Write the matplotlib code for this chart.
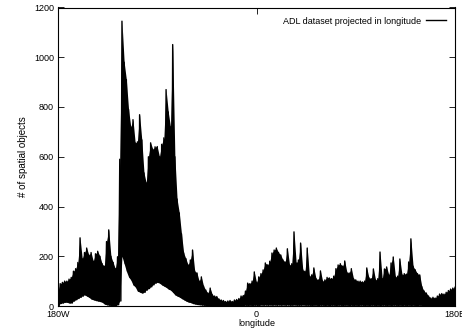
import numpy as np
import matplotlib
matplotlib.use("Agg")
import matplotlib.pyplot as plt

plt.rcParams['font.family'] = ['Liberation Sans', 'DejaVu Sans']

# longitude bins (2 degree step) and read-off envelopes of the dense histogram line
lon = list(range(-180, 181, 2))
upper = [60, 90, 95, 100, 100, 108, 115, 140, 150, 175,
         274, 190, 215, 233, 205, 215, 180, 210, 220, 200,
         170, 160, 259, 306, 200, 175, 150, 198, 590, 1145,
         980, 910, 790, 720, 749, 656, 660, 769, 668, 535,
         495, 600, 656, 630, 640, 641, 600, 650, 676, 870,
         780, 720, 1051, 600, 430, 374, 290, 213, 190, 165,
         185, 225, 140, 133, 100, 117, 80, 64, 52, 72,
         45, 40, 38, 28, 24, 22, 18, 20, 22, 18,
         24, 26, 30, 40, 42, 60, 92, 90, 100, 137,
         95, 117, 130, 145, 173, 165, 180, 213, 225, 233,
         215, 205, 185, 177, 230, 165, 170, 298, 173, 185,
         253, 145, 140, 233, 120, 125, 153, 110, 105, 141,
         100, 105, 115, 113, 110, 120, 150, 165, 170, 160,
         181, 135, 133, 150, 110, 105, 100, 100, 97, 100,
         153, 113, 110, 149, 105, 110, 217, 110, 149, 157,
         125, 173, 197, 117, 120, 189, 125, 130, 128, 177,
         270, 160, 145, 130, 125, 77, 60, 52, 40, 32,
         35, 32, 40, 48, 50, 48, 55, 62, 68, 72, 75]
lower = [0, 10, 12, 15, 15, 12, 12, 20, 25, 30,
         35, 40, 45, 40, 35, 28, 25, 22, 20, 18,
         15, 8, 5, 3, 2, 0, 2, 5, 20, 200,
         170, 140, 117, 105, 85, 77, 60, 56, 52, 55,
         64, 70, 77, 85, 92, 95, 92, 85, 80, 75,
         68, 64, 55, 45, 40, 36, 30, 25, 20, 16,
         14, 10, 8, 6, 5, 4, 3, 2, 2, 1,
         1, 0, 1, 0, 1, 0, 0, 1, 0, 1,
         0, 1, 2, 1, 2, 3, 2, 3, 2, 3,
         3, 2, 4, 3, 4, 3, 4, 3, 4, 3,
         4, 3, 4, 3, 4, 3, 3, 4, 3, 3,
         3, 4, 3, 3, 3, 2, 3, 3, 2, 3,
         3, 2, 3, 2, 3, 3, 2, 3, 3, 2,
         3, 3, 2, 3, 2, 3, 2, 3, 3, 2,
         3, 2, 3, 3, 2, 3, 2, 3, 3, 2,
         3, 2, 3, 3, 2, 3, 2, 3, 2, 3,
         2, 3, 2, 2, 3, 2, 2, 1, 2, 1,
         2, 1, 2, 1, 2, 1, 2, 1, 2, 1, 2]

x_ticks = [-180, 0, 180]
x_ticklabels = ['180W', '0', '180E']
y_ticks = [0, 200, 400, 600, 800, 1000, 1200]

# interleave envelopes into one dense zig-zag series
xs = []
ys = []
for i in range(len(lon)):
    xs.append(lon[i])
    ys.append(upper[i])
    if i < len(lon) - 1:
        xs.append(lon[i] + 1)
        ys.append(lower[i])

fig = plt.figure(figsize=(4.62, 3.29), dpi=100)
ax = fig.add_axes([58 / 462, 23 / 329, 397 / 462, 298.5 / 329])
ax.fill_between(lon, lower, upper, color='black', lw=0)
ax.plot(xs, ys, color='black', lw=1.0, label='ADL dataset projected in longitude')
ax.set_xlim(-180, 180)
ax.set_ylim(0, 1200)
ax.set_xticks(x_ticks)
ax.set_xticklabels(x_ticklabels)
ax.set_yticks(y_ticks)
ax.tick_params(direction='in', length=4, width=0.6, labelsize=6.5, pad=3,
               top=True, right=True)
for s in ax.spines.values():
    s.set_linewidth(0.8)
ax.set_xlabel('longitude', fontsize=6.5, labelpad=0)
ax.set_ylabel('# of spatial objects', fontsize=7, labelpad=4)
leg = ax.legend(loc='upper right', frameon=False, fontsize=6.5, markerfirst=False,
                handlelength=2.2, borderaxespad=0.6, handletextpad=0.6)
fig.savefig('out.png', dpi=100)
